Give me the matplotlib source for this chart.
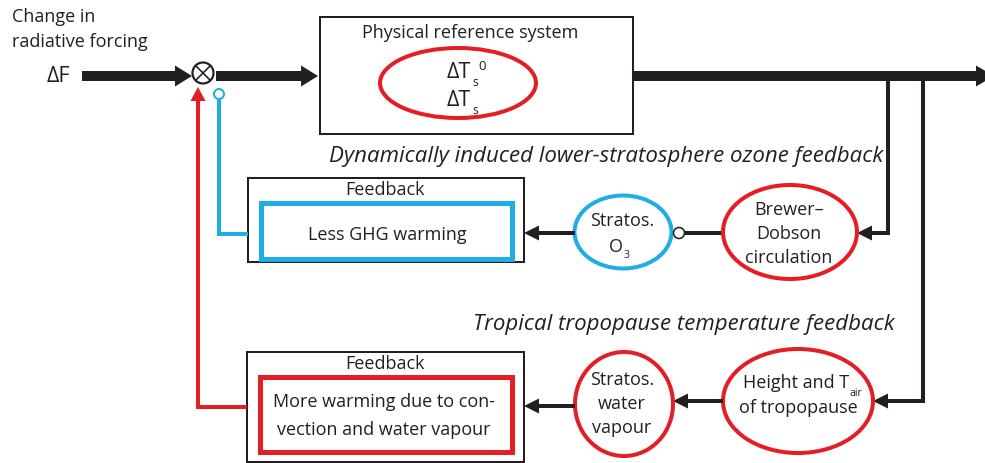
import matplotlib
matplotlib.use("Agg")
import numpy as np
import matplotlib.pyplot as plt
from matplotlib.patches import Ellipse, Rectangle, Circle, Polygon

plt.rcParams['font.family'] = ['Open Sans', 'DejaVu Sans']

# ---- content ----
input_label = ["Change in", "radiative forcing"]
input_symbol = "ΔF"
system_title = "Physical reference system"
loop_titles = ["Dynamically induced lower-stratosphere ozone feedback",
               "Tropical tropopause temperature feedback"]
brewer_lines = ["Brewer–", "Dobson", "circulation"]
ozone_lines = ["Stratos.", "O"]
height_lines = ["Height and T", "of tropopause"]
vapour_lines = ["Stratos.", "water", "vapour"]
feedback_title = "Feedback"
feedback1_lines = ["Less GHG warming"]
feedback2_lines = ["More warming due to con-", "vection and water vapour"]

RED = "#e31e24"
BLUE = "#1eaee6"
BLK = "#231f20"

fig = plt.figure(figsize=(9.85, 4.64), dpi=100)
ax = fig.add_axes([0, 0, 1, 1])
ax.set_xlim(0, 985)
ax.set_ylim(464, 0)
ax.axis("off")

PX = 0.72  # points per pixel
FS = 13


def arrow(p0, p1, lw_px, hl, hw, color=BLK, z=3):
    p0 = np.array(p0, float)
    p1 = np.array(p1, float)
    d = (p1 - p0) / np.hypot(*(p1 - p0))
    n = np.array([-d[1], d[0]])
    base = p1 - d * hl
    ax.plot([p0[0], base[0] + d[0]], [p0[1], base[1] + d[1]], color=color,
            lw=lw_px * PX, solid_capstyle="butt", zorder=z)
    ax.add_patch(Polygon([p1, base + n * hw / 2, base - n * hw / 2], closed=True,
                         fc=color, ec="none", zorder=z))


def line(xs, ys, lw_px, color=BLK, z=2):
    ax.plot(xs, ys, color=color, lw=lw_px * PX, solid_joinstyle="miter",
            solid_capstyle="butt", zorder=z)


def lines(x, ys, texts, **kw):
    for yy, t in zip(ys, texts):
        ax.text(x, yy, t, fontsize=FS, color=BLK, ha="center", va="center", **kw)


# ---- input text ----
ax.text(12, 17, input_label[0], fontsize=13, color=BLK, va="center", ha="left")
ax.text(12, 42, input_label[1], fontsize=13, color=BLK, va="center", ha="left")
ax.text(58, 77, input_symbol, fontsize=15.5, color=BLK, va="center", ha="center")

# ---- main path ----
arrow((82, 77), (192, 77), 10, 17, 21)
ax.add_patch(Circle((203, 74), 10.5, fill=False, lw=2.2 * PX, ec=BLK, zorder=4))
ax.plot([196, 210], [67, 81], color=BLK, lw=1.6 * PX, zorder=4)
ax.plot([196, 210], [81, 67], color=BLK, lw=1.6 * PX, zorder=4)
arrow((216, 77), (318, 77), 10, 17, 21)

# system box
ax.add_patch(Rectangle((320, 18), 313, 117, fill=False, lw=2 * PX, ec=BLK, zorder=2))
ax.text(470, 33, system_title, fontsize=FS, color=BLK, ha="center", va="center")
ax.add_patch(Ellipse((458, 84), 156, 70, fill=False, lw=4 * PX, ec=RED, zorder=3))
for yy, sup in [(72, True), (100, False)]:
    ax.text(459, yy, "ΔT", fontsize=15.5, color=BLK, ha="center", va="center")
    ax.text(475, yy + 10, "s", fontsize=8.5, color=BLK, ha="center", va="center")
    if sup:
        ax.text(482, yy - 6, "0", fontsize=9.5, color=BLK, ha="center", va="center")

# output
arrow((634, 77), (994, 77), 10, 18, 21)
line([888, 888, 870], [77, 234, 234], 4)
arrow((872, 234), (857, 234), 4, 15, 15)
line([923, 923, 887], [77, 402, 402], 4)
arrow((889, 402), (873, 402), 4, 15, 15)

# ---- loop 1 ----
ax.text(883, 157, loop_titles[0], fontsize=16, style="italic", color=BLK, ha="right", va="center")
ax.add_patch(Ellipse((790, 233), 134, 94, fill=False, lw=4 * PX, ec=RED, zorder=3))
lines(789, [210, 234, 258], brewer_lines)
line([684, 723], [234, 234], 4)
ax.add_patch(Circle((679, 234), 5.5, fc="white", ec=BLK, lw=1.6 * PX, zorder=4))
ax.add_patch(Ellipse((623, 233), 97, 73, fill=False, lw=4 * PX, ec=BLUE, zorder=3))
lines(622, [221], ozone_lines[:1])
lines(616, [247], ozone_lines[1:])
ax.text(627, 256, "3", fontsize=7.5, color=BLK, ha="center", va="center")
arrow((575, 234), (524, 234), 4, 15, 15)

ax.add_patch(Rectangle((248, 179), 276, 84, fill=False, lw=2 * PX, ec=BLK, zorder=2))
ax.text(385, 190, feedback_title, fontsize=FS, color=BLK, ha="center", va="center")
ax.add_patch(Rectangle((261, 204), 251, 56, fill=False, lw=5 * PX, ec=BLUE, zorder=3))
lines(387, [235], feedback1_lines)
line([248, 219, 219], [235, 235, 100], 4, color=BLUE)
ax.add_patch(Circle((219, 95), 5, fc="white", ec=BLUE, lw=2 * PX, zorder=4))

# ---- loop 2 ----
ax.text(895, 325, loop_titles[1], fontsize=16, style="italic", color=BLK, ha="right", va="center")
ax.add_patch(Ellipse((798, 402), 150, 104, fill=False, lw=4 * PX, ec=RED, zorder=3))
ax.text(849, 383, height_lines[0], fontsize=FS, color=BLK, ha="right", va="center")
ax.text(850, 394, "air", fontsize=7.5, color=BLK, ha="left", va="center")
lines(798, [408], height_lines[1:])
arrow((723, 402), (673, 402), 4, 15, 15)
ax.add_patch(Ellipse((624, 405), 98, 104, fill=False, lw=4 * PX, ec=RED, zorder=3))
lines(622, [380, 404, 428], vapour_lines)
arrow((575, 407), (524, 407), 4, 15, 15)

ax.add_patch(Rectangle((247, 353), 277, 110, fill=False, lw=2 * PX, ec=BLK, zorder=2))
ax.text(385, 364, feedback_title, fontsize=FS, color=BLK, ha="center", va="center")
ax.add_patch(Rectangle((260, 378), 252, 75, fill=False, lw=5 * PX, ec=RED, zorder=3))
lines(384, [402, 430], feedback2_lines)
line([247, 198, 198], [408, 408, 102], 4, color=RED)
arrow((198, 110), (198, 88), 4, 14, 15, color=RED)

fig.savefig("out.png", dpi=100)
